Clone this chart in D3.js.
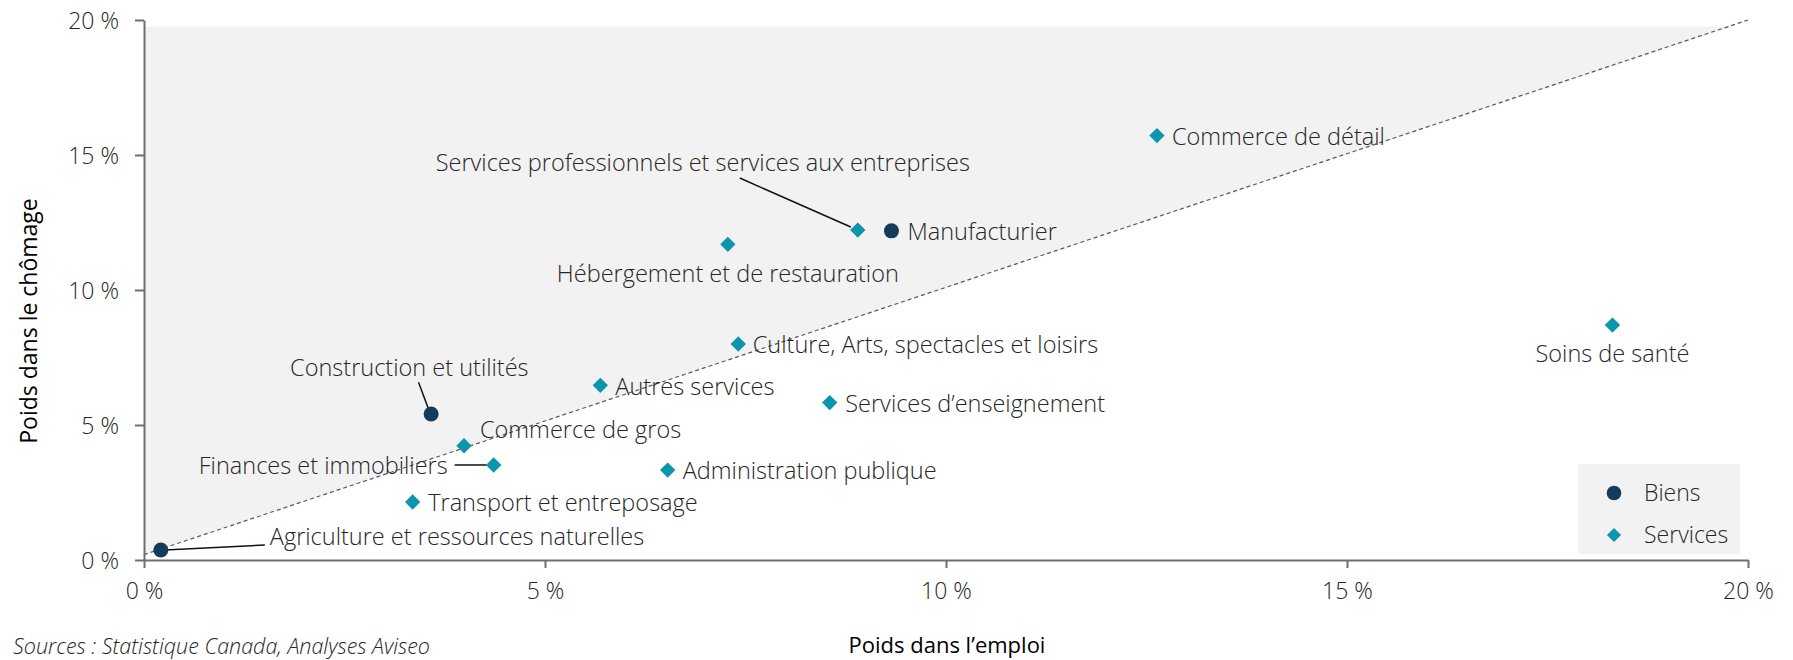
<!DOCTYPE html>
<html>
<head>
<meta charset="utf-8">
<script src="https://cdn.jsdelivr.net/npm/d3@7"></script>
<style>
  body { margin: 0; background: #fff; }
  svg text { font-family: "Open Sans", Lato, sans-serif; }
</style>
</head>
<body>
<div id="chart"></div>
<script>
// Data (percent)
const sectors = [
    'Agriculture et ressources naturelles',
    'Construction et utilités',
    'Manufacturier',
    'Commerce de gros',
    'Finances et immobiliers',
    'Transport et entreposage',
    'Autres services',
    'Administration publique',
    'Culture, Arts, spectacles et loisirs',
    'Hébergement et de restauration',
    'Services d\u2019enseignement',
    'Services professionnels et services aux entreprises',
    'Commerce de détail',
    'Soins de santé'
];
const groups = ['Biens', 'Biens', 'Biens', 'Services', 'Services', 'Services', 'Services',
    'Services', 'Services', 'Services', 'Services', 'Services', 'Services', 'Services'];
const emploi = [0.21, 3.58, 9.32, 3.99, 4.36, 3.35, 5.69, 6.53, 7.41, 7.28, 8.55, 8.90, 12.63, 18.31];
const chomage = [0.37, 5.41, 12.19, 4.23, 3.52, 2.15, 6.47, 3.33, 8.00, 11.69, 5.83, 12.22, 15.72, 8.70];

const xTicks = [0, 5, 10, 15, 20];
const yTicks = [0, 5, 10, 15, 20];
const legendItems = ['Biens', 'Services'];

// diagonal reference line and shaded zone above it
const diagLine = [[0, 0.2], [20, 20]];
const shadeZone = [[0, 0.2], [0, 19.75], [19.8, 19.75]];

// label placement (pixels from the point)
const labelLayout = {
    'Agriculture et ressources naturelles': { dx: 109, dy: -13, anchor: 'start', leader: [[4, 0], [104, -5]] },
    'Construction et utilités': { dx: -141, dy: -46, anchor: 'start', leader: [[-12.6, -31.7], [-3, -6]] },
    'Manufacturier': { dx: 16, dy: 1, anchor: 'start' },
    'Commerce de gros': { dx: 16, dy: -16, anchor: 'start' },
    'Finances et immobiliers': { dx: -46, dy: 1, anchor: 'end', leader: [[-39, 0], [-7, 0]] },
    'Transport et entreposage': { dx: 15.5, dy: 1, anchor: 'start' },
    'Autres services': { dx: 15, dy: 1, anchor: 'start' },
    'Administration publique': { dx: 15, dy: 1, anchor: 'start' },
    'Culture, Arts, spectacles et loisirs': { dx: 14.5, dy: 1, anchor: 'start' },
    'Hébergement et de restauration': { dx: 0, dy: 29, anchor: 'middle' },
    'Services d\u2019enseignement': { dx: 15.5, dy: 1, anchor: 'start' },
    'Services professionnels et services aux entreprises': { dx: -155, dy: -67, anchor: 'middle', leader: [[-118, -52], [-7, -3]] },
    'Commerce de détail': { dx: 15, dy: 1, anchor: 'start' },
    'Soins de santé': { dx: 0, dy: 29, anchor: 'middle' }
};

const width = 1793;
const height = 660;
const margin = { top: 20, right: 45, bottom: 100, left: 144 };
const colors = { Biens: '#133b5c', Services: '#0b96ad' };
const textColor = '#262626';
const axisColor = '#6e6e6e';
const labelSize = 23.5;

const svg = d3.select('#chart')
    .append('svg')
    .attr('width', width)
    .attr('height', height);

const x = d3.scaleLinear().domain([0, 20]).range([margin.left, width - margin.right]);
const y = d3.scaleLinear().domain([0, 20]).range([height - margin.bottom, margin.top]);

// shaded area above the diagonal
svg.append('path')
    .attr('d', d3.line().x(d => x(d[0])).y(d => y(d[1]))(shadeZone) + 'Z')
    .attr('fill', '#f2f2f2');

svg.append('path')
    .attr('d', d3.line().x(d => x(d[0])).y(d => y(d[1]))(diagLine))
    .attr('fill', 'none')
    .attr('stroke', '#5a5a5a')
    .attr('stroke-width', 1.2)
    .attr('stroke-dasharray', '4,3');

// axes
const fmt = d => d + ' %';
const xAxis = svg.append('g')
    .attr('transform', `translate(0,${y(0)})`)
    .call(d3.axisBottom(x).tickValues(xTicks).tickFormat(fmt).tickSize(8).tickSizeOuter(0));
const yAxis = svg.append('g')
    .attr('transform', `translate(${x(0)},0)`)
    .call(d3.axisLeft(y).tickValues(yTicks).tickFormat(fmt).tickSize(9).tickSizeOuter(0));

[xAxis, yAxis].forEach(ax => {
    ax.select('.domain').attr('stroke', axisColor).attr('stroke-width', 2);
    ax.selectAll('.tick line').attr('stroke', axisColor).attr('stroke-width', 2);
    ax.selectAll('.tick text')
        .attr('fill', textColor)
        .attr('font-size', 23)
        .attr('font-weight', 300);
});
xAxis.selectAll('.tick text').attr('y', 23).attr('dy', '0.71em');
yAxis.selectAll('.tick text').attr('x', -25).attr('dy', '0.35em');

// leader lines
sectors.forEach((name, i) => {
    const lay = labelLayout[name];
    if (!lay.leader) return;
    const px = x(emploi[i]);
    const py = y(chomage[i]);
    svg.append('line')
        .attr('x1', px + lay.leader[0][0])
        .attr('y1', py + lay.leader[0][1])
        .attr('x2', px + lay.leader[1][0])
        .attr('y2', py + lay.leader[1][1])
        .attr('stroke', '#111')
        .attr('stroke-width', 1.5);
});

// markers
const diamond = d3.symbol().type(d3.symbolSquare).size(118);
const points = svg.append('g')
    .selectAll('g')
    .data(sectors.map((name, i) => ({ name, group: groups[i], ex: emploi[i], ch: chomage[i] })))
    .enter().append('g')
    .attr('transform', d => `translate(${x(d.ex)},${y(d.ch)})`);

points.filter(d => d.group === 'Biens')
    .append('circle')
    .attr('r', 7.5)
    .attr('fill', colors.Biens);

points.filter(d => d.group === 'Services')
    .append('path')
    .attr('d', diamond)
    .attr('transform', 'rotate(45)')
    .attr('fill', colors.Services);

// point labels
points.append('text')
    .text(d => d.name)
    .attr('x', d => labelLayout[d.name].dx)
    .attr('y', d => labelLayout[d.name].dy)
    .attr('dy', '0.35em')
    .attr('text-anchor', d => labelLayout[d.name].anchor)
    .attr('font-size', labelSize)
    .attr('font-weight', 300)
    .attr('fill', textColor);

// legend
const legend = svg.append('g').attr('transform', 'translate(1578,464)');
legend.append('rect')
    .attr('width', 162)
    .attr('height', 90)
    .attr('fill', '#f2f2f2');
const legendRow = legend.selectAll('.row')
    .data(legendItems)
    .enter().append('g')
    .attr('class', 'row')
    .attr('transform', (d, i) => `translate(36,${29 + i * 42})`);
legendRow.filter(d => d === 'Biens')
    .append('circle')
    .attr('r', 7.3)
    .attr('fill', colors.Biens);
legendRow.filter(d => d === 'Services')
    .append('path')
    .attr('d', d3.symbol().type(d3.symbolSquare).size(100))
    .attr('transform', 'rotate(45)')
    .attr('fill', colors.Services);
legendRow.append('text')
    .text(d => d)
    .attr('x', 30)
    .attr('dy', '0.35em')
    .attr('font-size', 23)
    .attr('font-weight', 300)
    .attr('fill', textColor);

// axis titles
svg.append('text')
    .text('Poids dans l\u2019emploi')
    .attr('x', 947)
    .attr('y', 645)
    .attr('dy', '0.35em')
    .attr('text-anchor', 'middle')
    .attr('font-size', 22)
    .attr('fill', '#000');

svg.append('text')
    .text('Poids dans le chômage')
    .attr('transform', 'translate(29,321) rotate(-90)')
    .attr('dy', '0.35em')
    .attr('text-anchor', 'middle')
    .attr('font-size', 23)
    .attr('fill', '#000');

svg.append('text')
    .text('Sources : Statistique Canada, Analyses Aviseo')
    .attr('x', 13)
    .attr('y', 646)
    .attr('dy', '0.35em')
    .attr('font-size', 21.5)
    .attr('font-style', 'italic')
    .attr('font-weight', 300)
    .attr('fill', textColor);
</script>
</body>
</html>
